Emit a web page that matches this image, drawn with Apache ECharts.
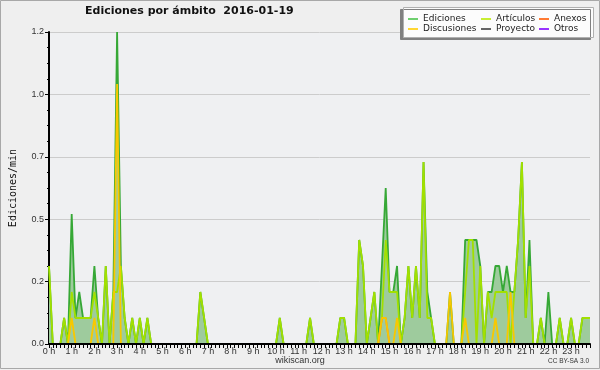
<!DOCTYPE html>
<html><head><meta charset="utf-8">
<script src="https://cdn.jsdelivr.net/npm/echarts@6/dist/echarts.min.js"></script>
<style>html,body{margin:0;padding:0;background:#efefef}#c{width:600px;height:370px}</style>
</head><body><div id="c"></div>
<script>
const hourLabels = ['0 h','1 h','2 h','3 h','4 h','5 h','6 h','7 h','8 h','9 h','10 h','11 h','12 h','13 h','14 h','15 h','16 h','17 h','18 h','19 h','20 h','21 h','22 h','23 h'];
const slotsPerHour = 6; // 10-minute slots
const yTicks = [0, 0.24, 0.48, 0.72, 0.96, 1.2];

const ediciones = [
 0.3,0,0,0,0.1,0,
 0.5,0.1,0.2,0.1,0.1,0.1,
 0.3,0.1,0,0.3,0,0.2,
 1.2,0.3,0.1,0,0.1,0,
 0.1,0,0.1,0,0,0,
 0,0,0,0,0,0,
 0,0,0,0,0.2,0.1,
 0,0,0,0,0,0,
 0,0,0,0,0,0,
 0,0,0,0,0,0,
 0,0.1,0,0,0,0,
 0,0,0,0.1,0,0,
 0,0,0,0,0,0.1,
 0.1,0,0,0,0.4,0.3,
 0,0.1,0.2,0,0.3,0.6,
 0.2,0.2,0.3,0,0.1,0.3,
 0.1,0.3,0.1,0.7,0.2,0.1,
 0,0,0,0,0.2,0,
 0,0,0.4,0.4,0.4,0.4,
 0.3,0,0.2,0.2,0.3,0.3,
 0.2,0.3,0.2,0.2,0.4,0.7,
 0.1,0.4,0,0,0.1,0,
 0.2,0,0,0.1,0,0,
 0.1,0,0,0.1,0.1,0.1
];
const articulos = [
 0.3,0,0,0,0.1,0,
 0.2,0.1,0.1,0.1,0.1,0.1,
 0.2,0.1,0,0.3,0,0.2,
 0.2,0.3,0.1,0,0.1,0,
 0.1,0,0.1,0,0,0,
 0,0,0,0,0,0,
 0,0,0,0,0.2,0.1,
 0,0,0,0,0,0,
 0,0,0,0,0,0,
 0,0,0,0,0,0,
 0,0.1,0,0,0,0,
 0,0,0,0.1,0,0,
 0,0,0,0,0,0.1,
 0.1,0,0,0,0.4,0.3,
 0,0.1,0.2,0,0.1,0.4,
 0.2,0.2,0.2,0,0.1,0.3,
 0.1,0.3,0.1,0.7,0.1,0.1,
 0,0,0,0,0,0,
 0,0,0.2,0.4,0.4,0,
 0.3,0,0.2,0.1,0.2,0.2,
 0.2,0.2,0,0.2,0.4,0.7,
 0.1,0.3,0,0,0.1,0,
 0,0,0,0.1,0,0,
 0.1,0,0,0.1,0.1,0.1
];
const anexos = [
 0,0,0,0,0,0, 0,0,0,0,0,0, 0,0,0,0,0,0, 0,0,0,0,0,0,
 0,0,0,0,0,0, 0,0,0,0,0,0, 0,0,0,0,0,0, 0,0,0,0,0,0,
 0,0,0,0,0,0, 0,0,0,0,0,0, 0,0,0,0,0,0, 0,0,0,0,0,0,
 0,0,0,0,0,0, 0,0,0,0,0,0, 0,0,0,0,0.1,0.1, 0,0,0,0,0,0,
 0,0,0,0,0,0, 0,0,0,0,0,0, 0,0,0,0,0,0, 0,0,0,0,0,0,
 0,0,0,0,0,0, 0,0,0,0,0,0, 0,0,0,0,0,0, 0,0,0,0,0,0
];
const discusiones = [
 0,0,0,0,0,0, 0.1,0,0,0,0,0, 0.1,0,0,0,0,0, 1.0,0,0,0,0,0,
 0,0,0,0,0,0, 0,0,0,0,0,0, 0,0,0,0,0,0, 0,0,0,0,0,0,
 0,0,0,0,0,0, 0,0,0,0,0,0, 0,0,0,0,0,0, 0,0,0,0,0,0,
 0,0,0,0,0,0, 0,0,0,0,0,0, 0,0,0,0,0.1,0.1, 0,0,0.1,0,0,0,
 0,0,0,0,0,0, 0,0,0,0,0.2,0, 0,0,0.1,0,0,0, 0,0,0,0,0.1,0,
 0,0,0.2,0,0,0, 0,0,0,0,0,0, 0,0,0,0,0,0, 0,0,0,0,0,0
];
const proyecto = [
 0,0,0,0,0,0, 0,0,0,0,0,0, 0,0,0,0,0,0, 0,0,0,0,0,0,
 0,0,0,0,0,0, 0,0,0,0,0,0, 0,0,0,0,0,0, 0,0,0,0,0,0,
 0,0,0,0,0,0, 0,0,0,0,0,0, 0,0,0,0,0,0, 0,0,0,0,0,0,
 0,0,0,0,0,0, 0,0,0,0,0,0, 0,0,0,0,0,0, 0,0,0,0,0,0,
 0,0,0,0,0,0, 0,0,0,0,0,0, 0,0,0,0,0,0, 0,0,0,0,0,0,
 0,0,0,0,0,0, 0,0,0,0,0,0, 0,0,0,0,0,0, 0,0,0,0,0,0
];
const otros = [
 0,0,0,0,0,0, 0,0,0,0,0,0, 0,0,0,0,0,0, 0,0,0,0,0,0,
 0,0,0,0,0,0, 0,0,0,0,0,0, 0,0,0,0,0,0, 0,0,0,0,0,0,
 0,0,0,0,0,0, 0,0,0,0,0,0, 0,0,0,0,0,0, 0,0,0,0,0,0,
 0,0,0,0,0,0, 0,0,0,0,0,0, 0,0,0,0,0,0, 0,0,0,0,0,0,
 0,0,0,0,0,0, 0,0,0,0,0,0, 0,0,0,0,0,0, 0,0,0,0,0,0,
 0,0,0,0,0,0, 0,0,0,0,0,0, 0,0,0,0,0,0, 0,0,0,0,0,0
];

const categories = [];
hourLabels.forEach((h, hi) => {
  for (let k = 0; k < slotsPerHour; k++) categories.push(k === 0 ? h : hi + ':' + k + '0');
});

const colors = {
  Ediciones: '#36a836', EdicionesLegend: '#6fcf6f', fill: '#9ecb9d',
  'Artículos': '#a2e000', Anexos: '#ff7a33', Discusiones: '#f8c800', Proyecto: '#666666', Otros: '#9933ff'
};

const chart = echarts.init(document.getElementById('c'), null, {renderer: 'canvas'});
const legendCommon = {
  orient: 'vertical', top: 14, padding: 0, itemGap: 0, itemWidth: 10, itemHeight: 2,
  icon: 'rect', selectedMode: false,
  textStyle: {fontFamily: 'DejaVu Sans', fontSize: 9, color: '#222', lineHeight: 10}
};
function lineSeries(name, data, color, extra) {
  return Object.assign({
    name, type: 'line', data, symbol: 'none', showSymbol: false, animation: false,
    lineStyle: {color, width: 1.8}, itemStyle: {color}, emphasis: {disabled: true}
  }, extra || {});
}
chart.setOption({
  animation: false,
  backgroundColor: '#efefef',
  title: {
    text: 'Ediciones por ámbito  2016-01-19', left: 85, top: 6, padding: 0,
    textStyle: {fontFamily: 'DejaVu Sans', fontWeight: 'bold', fontSize: 11, color: '#111'}
  },
  graphic: [
    {type: 'rect', shape: {x: 0.5, y: 0.5, width: 599, height: 368}, style: {fill: 'none', stroke: '#a8a8a8', lineWidth: 1}, z: 0},
    {type: 'rect', shape: {x: 403.5, y: 7.5, width: 190, height: 30},
     style: {fill: '#fcfcfc', stroke: '#b0b0b0', lineWidth: 1, shadowColor: '#808080', shadowOffsetX: -3, shadowOffsetY: 2, shadowBlur: 0}, z: 1},
    {type: 'text', left: 'center', top: 356, style: {text: 'wikiscan.org', fontFamily: 'Liberation Sans', fontSize: 9, fill: '#333'}},
    {type: 'text', right: 11, top: 358, style: {text: 'CC BY-SA 3.0', fontFamily: 'Liberation Sans', fontSize: 6.5, fill: '#333'}}
  ],
  legend: [
    Object.assign({left: 408, data: [{name: 'Ediciones', itemStyle: {color: colors.EdicionesLegend}}, {name: 'Discusiones', itemStyle: {color: '#ffd633'}}]}, legendCommon),
    Object.assign({left: 481, data: [{name: 'Artículos', itemStyle: {color: '#c8ee33'}}, {name: 'Proyecto', itemStyle: {color: '#666'}}]}, legendCommon),
    Object.assign({left: 539, data: [{name: 'Anexos', itemStyle: {color: '#ff7a33'}}, {name: 'Otros', itemStyle: {color: '#9933ff'}}]}, legendCommon)
  ],
  grid: {left: 46, right: 10, top: 32, bottom: 26, show: true, backgroundColor: '#eff0f2', borderWidth: 0},
  xAxis: {
    type: 'category', data: categories, boundaryGap: false, z: 5,
    axisLine: {lineStyle: {color: '#000', width: 2}},
    axisTick: {interval: 0, length: 4, lineStyle: {color: '#000'}},
    axisLabel: {interval: (i) => i % slotsPerHour === 0, fontFamily: 'Liberation Sans', fontSize: 9, color: '#333', margin: 3},
    splitLine: {show: false}
  },
  yAxis: {
    type: 'value', min: yTicks[0], max: yTicks[yTicks.length - 1], interval: yTicks[1] - yTicks[0],
    axisLine: {show: true, lineStyle: {color: '#000', width: 2}},
    axisTick: {show: true, length: 4, lineStyle: {color: '#000'}},
    minorTick: {show: true, splitNumber: 4, length: 2, lineStyle: {color: '#000'}},
    axisLabel: {formatter: (v) => v.toFixed(1), fontFamily: 'Liberation Sans', fontSize: 9, color: '#333', margin: 5},
    splitLine: {lineStyle: {color: '#cccccc', width: 1}},
    name: 'Ediciones/min', nameLocation: 'middle', nameGap: 31,
    nameTextStyle: {fontFamily: 'DejaVu Sans Mono', fontSize: 10, color: '#111'}
  },
  series: [
    lineSeries('Ediciones', ediciones, colors.Ediciones, {areaStyle: {color: colors.fill, opacity: 1}}),
    lineSeries('Artículos', articulos, colors['Artículos']),
    lineSeries('Proyecto', proyecto, colors.Proyecto),
    lineSeries('Otros', otros, colors.Otros),
    lineSeries('Anexos', anexos, colors.Anexos),
    lineSeries('Discusiones', discusiones, colors.Discusiones)
  ]
});
</script></body></html>
